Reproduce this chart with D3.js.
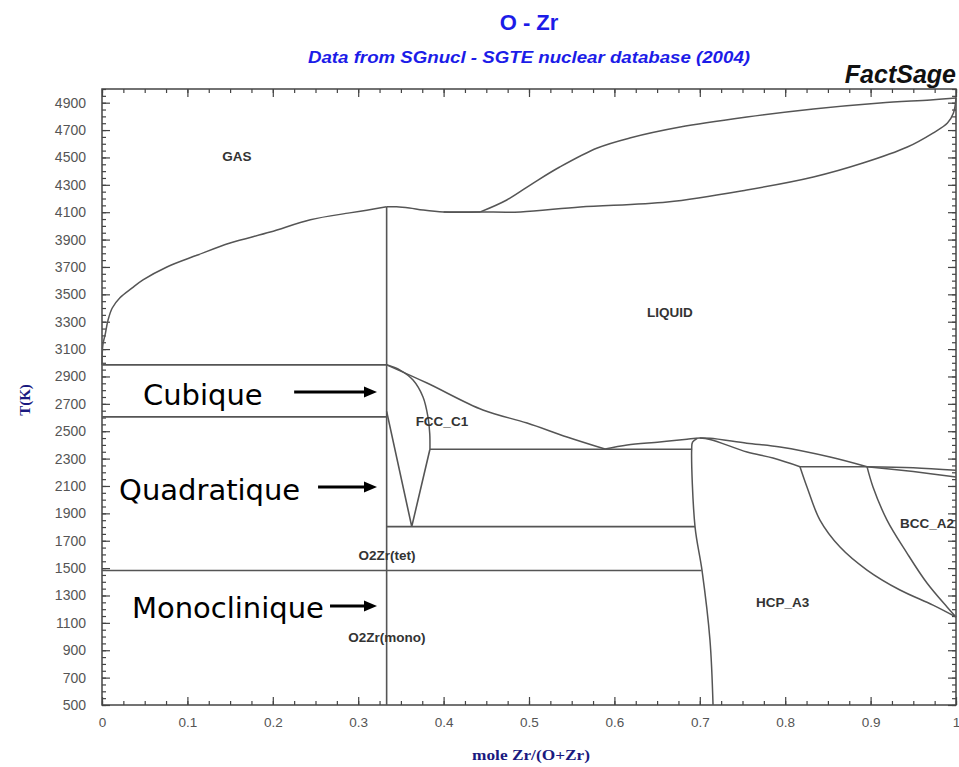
<!DOCTYPE html>
<html><head><meta charset="utf-8">
<script src="https://cdn.jsdelivr.net/npm/d3@7"></script>
<style>body{margin:0;background:#fff}svg{display:block}</style>
</head><body>
<svg id="chart" width="959" height="767"></svg>
<script>
// ---- tick data ----
const xTickValues = [0,0.1,0.2,0.3,0.4,0.5,0.6,0.7,0.8,0.9,1];
const xTickLabels = ["0","0.1","0.2","0.3","0.4","0.5","0.6","0.7","0.8","0.9","1"];
const yTickValues = [500,700,900,1100,1300,1500,1700,1900,2100,2300,2500,2700,2900,3100,3300,3500,3700,3900,4100,4300,4500,4700,4900];
const yTickLabels = ["500","700","900","1100","1300","1500","1700","1900","2100","2300","2500","2700","2900","3100","3300","3500","3700","3900","4100","4300","4500","4700","4900"];

// ---- phase boundaries [mole Zr, T(K)] ----
const gasLeft = [[0,2985],[0.001,3130],[0.004,3215],[0.007,3310],[0.012,3400],[0.021,3475],[0.035,3545],[0.048,3605],[0.076,3700],[0.111,3785],[0.150,3875],[0.197,3955],[0.244,4045],[0.290,4095],[0.310,4115],[0.3333,4140]];
const gasMid = [[0.3333,4140],[0.345,4140],[0.36,4131],[0.376,4116],[0.40,4102],[0.443,4102]];
const liquidLens = [[0.40,4102],[0.443,4102],[0.49,4102],[0.56,4138],[0.662,4174],[0.755,4262],[0.833,4357],[0.891,4459],[0.943,4576],[0.973,4678],[0.990,4751],[0.997,4824],[1.0,4934]];
const gasLens = [[0.443,4102],[0.474,4189],[0.505,4313],[0.536,4430],[0.580,4569],[0.618,4642],[0.677,4722],[0.755,4795],[0.833,4854],[0.911,4898],[0.970,4920],[1.0,4934]];
const zro2Line = [[0.3333,500],[0.3333,4140]];
const cubicMelt = [[0,2985],[0.3333,2985]];
const tetCubic = [[0,2605],[0.3333,2605]];
const monoTet = [[0,1483],[0.702,1483]];
const eutectoid = [[0.3333,1803],[0.6944,1803]];
const eutectic = [[0.384,2368],[0.691,2368]];
const peritectic = [[0.8173,2241],[0.8958,2241]];
const tetV = [[0.3333,2645],[0.3627,1803],[0.384,2368]];
const fccBoundary = [[0.384,2368],[0.3838,2480],[0.3817,2604],[0.3759,2750],[0.3642,2874],[0.349,2947],[0.3333,2985]];
const fccLiquidus = [[0.3333,2985],[0.3806,2852],[0.446,2655],[0.4977,2560],[0.5445,2458],[0.589,2370]];
const zrLiquidus = [[0.589,2370],[0.615,2399],[0.653,2421],[0.685,2442],[0.700,2450],[0.712,2448],[0.755,2413],[0.794,2385],[0.8525,2312],[0.8958,2241]];
const hcpSolidus = [[0.700,2450],[0.712,2440],[0.7553,2348],[0.7857,2304],[0.8173,2241]];
const hcpLeft = [[0.697,2448],[0.6915,2420],[0.6905,2370],[0.6944,1803],[0.7026,1483],[0.7119,975],[0.7155,500]];
const hcpRight = [[0.8173,2241],[0.8255,2093],[0.8407,1851],[0.8642,1654],[0.8958,1486],[0.9344,1340],[0.9731,1230],[1.0,1143]];
const bccLeft = [[0.8958,2241],[0.9028,2093],[0.9192,1851],[0.9426,1610],[0.966,1391],[0.9895,1216],[1.0,1143]];
const zrLiquidusEnd = [[0.8958,2241],[0.95,2205],[1.0,2166]];
const bccSolidus = [[0.8958,2241],[0.95,2234],[1.0,2215]];

const phaseLabels = ["GAS","LIQUID","FCC_C1","O2Zr(tet)","O2Zr(mono)","HCP_A3","BCC_A2"];
const phaseX = [0.158,0.665,0.398,0.3337,0.3337,0.797,0.966];
const phaseT = [4510,3371,2575,1596,997,1252,1830];

const noteLabels = ["Cubique","Quadratique","Monoclinique"];
const noteX = [0.048,0.020,0.035];
const noteT = [2692,1998,1135];
const arrowX0 = [0.225,0.253,0.267];
const arrowX1 = [0.322,0.322,0.322];
const arrowT = [2786,2092,1223];

// ---- scales ----
const x = d3.scaleLinear().domain([0,1]).range([102,956]);
const y = d3.scaleLinear().domain([500,5000]).range([705,89]);
const svg = d3.select("#chart");
const lineCol = "#555";

// ---- axes ----
const tickStyle = g => { g.select(".domain").remove(); g.selectAll(".tick line").attr("stroke","#444").attr("stroke-width",1.2); };
const minorX = d3.range(0,1.0001,0.025);
const minorY = d3.range(500,5001,50);

svg.append("g").attr("transform","translate(0,705)")
  .call(d3.axisBottom(x).tickValues(minorX).tickSizeInner(-4).tickSizeOuter(0).tickFormat("")).call(tickStyle);
svg.append("g").attr("transform","translate(0,705)")
  .call(d3.axisBottom(x).tickValues(xTickValues).tickSizeInner(-8).tickSizeOuter(0).tickPadding(12)
    .tickFormat((d,i)=>xTickLabels[i])).call(tickStyle)
  .selectAll("text").attr("font-family","Liberation Sans, Arial, sans-serif").attr("font-size",13.5).attr("fill","#555");
svg.append("g").attr("transform","translate(0,89)")
  .call(d3.axisTop(x).tickValues(minorX).tickSizeInner(-4).tickSizeOuter(0).tickFormat("")).call(tickStyle);
svg.append("g").attr("transform","translate(0,89)")
  .call(d3.axisTop(x).tickValues(xTickValues).tickSizeInner(-8).tickSizeOuter(0).tickFormat("")).call(tickStyle);

svg.append("g").attr("transform","translate(102,0)")
  .call(d3.axisLeft(y).tickValues(minorY).tickSizeInner(-4).tickSizeOuter(0).tickFormat("")).call(tickStyle);
svg.append("g").attr("transform","translate(102,0)")
  .call(d3.axisLeft(y).tickValues(yTickValues).tickSizeInner(-8).tickSizeOuter(0).tickPadding(16)
    .tickFormat((d,i)=>yTickLabels[i])).call(tickStyle)
  .selectAll("text").attr("font-family","Liberation Sans, Arial, sans-serif").attr("font-size",14).attr("fill","#555");
svg.append("g").attr("transform","translate(956,0)")
  .call(d3.axisRight(y).tickValues(minorY).tickSizeInner(-4).tickSizeOuter(0).tickFormat("")).call(tickStyle);
svg.append("g").attr("transform","translate(956,0)")
  .call(d3.axisRight(y).tickValues(yTickValues).tickSizeInner(-8).tickSizeOuter(0).tickFormat("")).call(tickStyle);

// frame
svg.append("rect").attr("x",x(0)).attr("y",y(5000)).attr("width",x(1)-x(0)).attr("height",y(500)-y(5000))
  .attr("fill","none").attr("stroke","#444").attr("stroke-width",1.5);

// ---- boundaries ----
const smooth = d3.line().x(d=>x(d[0])).y(d=>y(d[1])).curve(d3.curveCatmullRom.alpha(0.5));
const straight = d3.line().x(d=>x(d[0])).y(d=>y(d[1]));
const smoothSets = [gasLeft,gasMid,liquidLens,gasLens,fccBoundary,fccLiquidus,zrLiquidus,hcpSolidus,hcpLeft,hcpRight,bccLeft,zrLiquidusEnd,bccSolidus];
const straightSets = [zro2Line,cubicMelt,tetCubic,monoTet,eutectoid,eutectic,peritectic,tetV];
const plot = svg.append("g");
plot.selectAll("path.s").data(smoothSets).join("path").attr("class","s").attr("d",smooth)
  .attr("fill","none").attr("stroke",lineCol).attr("stroke-width",1.5);
plot.selectAll("path.l").data(straightSets).join("path").attr("class","l").attr("d",straight)
  .attr("fill","none").attr("stroke",lineCol).attr("stroke-width",1.6);

// ---- phase labels ----
svg.selectAll("text.phase").data(phaseLabels).join("text").attr("class","phase")
  .attr("x",(d,i)=>x(phaseX[i])).attr("y",(d,i)=>y(phaseT[i])).attr("dy","0.35em")
  .attr("text-anchor","middle").attr("font-family","Liberation Sans, Arial, sans-serif")
  .attr("font-weight","bold").attr("font-size",13.5).attr("fill","#333").text(d=>d);

// ---- annotations ----
svg.selectAll("text.note").data(noteLabels).join("text").attr("class","note")
  .attr("x",(d,i)=>x(noteX[i])).attr("y",(d,i)=>y(noteT[i]))
  .attr("font-family","DejaVu Sans, Verdana, sans-serif").attr("font-size",29).attr("fill","#000").text(d=>d);
noteLabels.forEach((d,i)=>{
  const x0=x(arrowX0[i]), x1=x(arrowX1[i]), yy=y(arrowT[i]);
  svg.append("line").attr("x1",x0).attr("x2",x1-10).attr("y1",yy).attr("y2",yy).attr("stroke","#000").attr("stroke-width",3);
  svg.append("path").attr("d",`M${x1},${yy} L${x1-13},${yy-5.5} L${x1-13},${yy+5.5} Z`).attr("fill","#000");
});

// ---- titles ----
svg.append("text").attr("x",529).attr("y",30).attr("text-anchor","middle")
  .attr("font-family","Liberation Sans, Arial, sans-serif").attr("font-weight","bold").attr("font-size",22)
  .attr("fill","#1c1ce8").text("O - Zr");
svg.append("text").attr("x",529).attr("y",63).attr("text-anchor","middle")
  .attr("font-family","Liberation Sans, Arial, sans-serif").attr("font-weight","bold").attr("font-style","italic")
  .attr("font-size",17).attr("textLength",442).attr("lengthAdjust","spacingAndGlyphs")
  .attr("fill","#1c1ce8").text("Data from SGnucl - SGTE nuclear database (2004)");
svg.append("text").attr("x",956).attr("y",83).attr("text-anchor","end")
  .attr("font-family","Liberation Sans, Arial, sans-serif").attr("font-weight","bold").attr("font-style","italic")
  .attr("font-size",25).attr("fill","#111").text("FactSage");
svg.append("text").attr("x",531).attr("y",760).attr("text-anchor","middle")
  .attr("font-family","Liberation Serif, Times New Roman, serif").attr("font-weight","bold")
  .attr("font-size",15).attr("textLength",118).attr("lengthAdjust","spacingAndGlyphs")
  .attr("fill","#1a1a80").text("mole Zr/(O+Zr)");
svg.append("text").attr("transform","translate(30,400) rotate(-90)").attr("text-anchor","middle")
  .attr("font-family","Liberation Serif, Times New Roman, serif").attr("font-weight","bold")
  .attr("font-size",15).attr("fill","#1a1a80").text("T(K)");
</script>
</body></html>
